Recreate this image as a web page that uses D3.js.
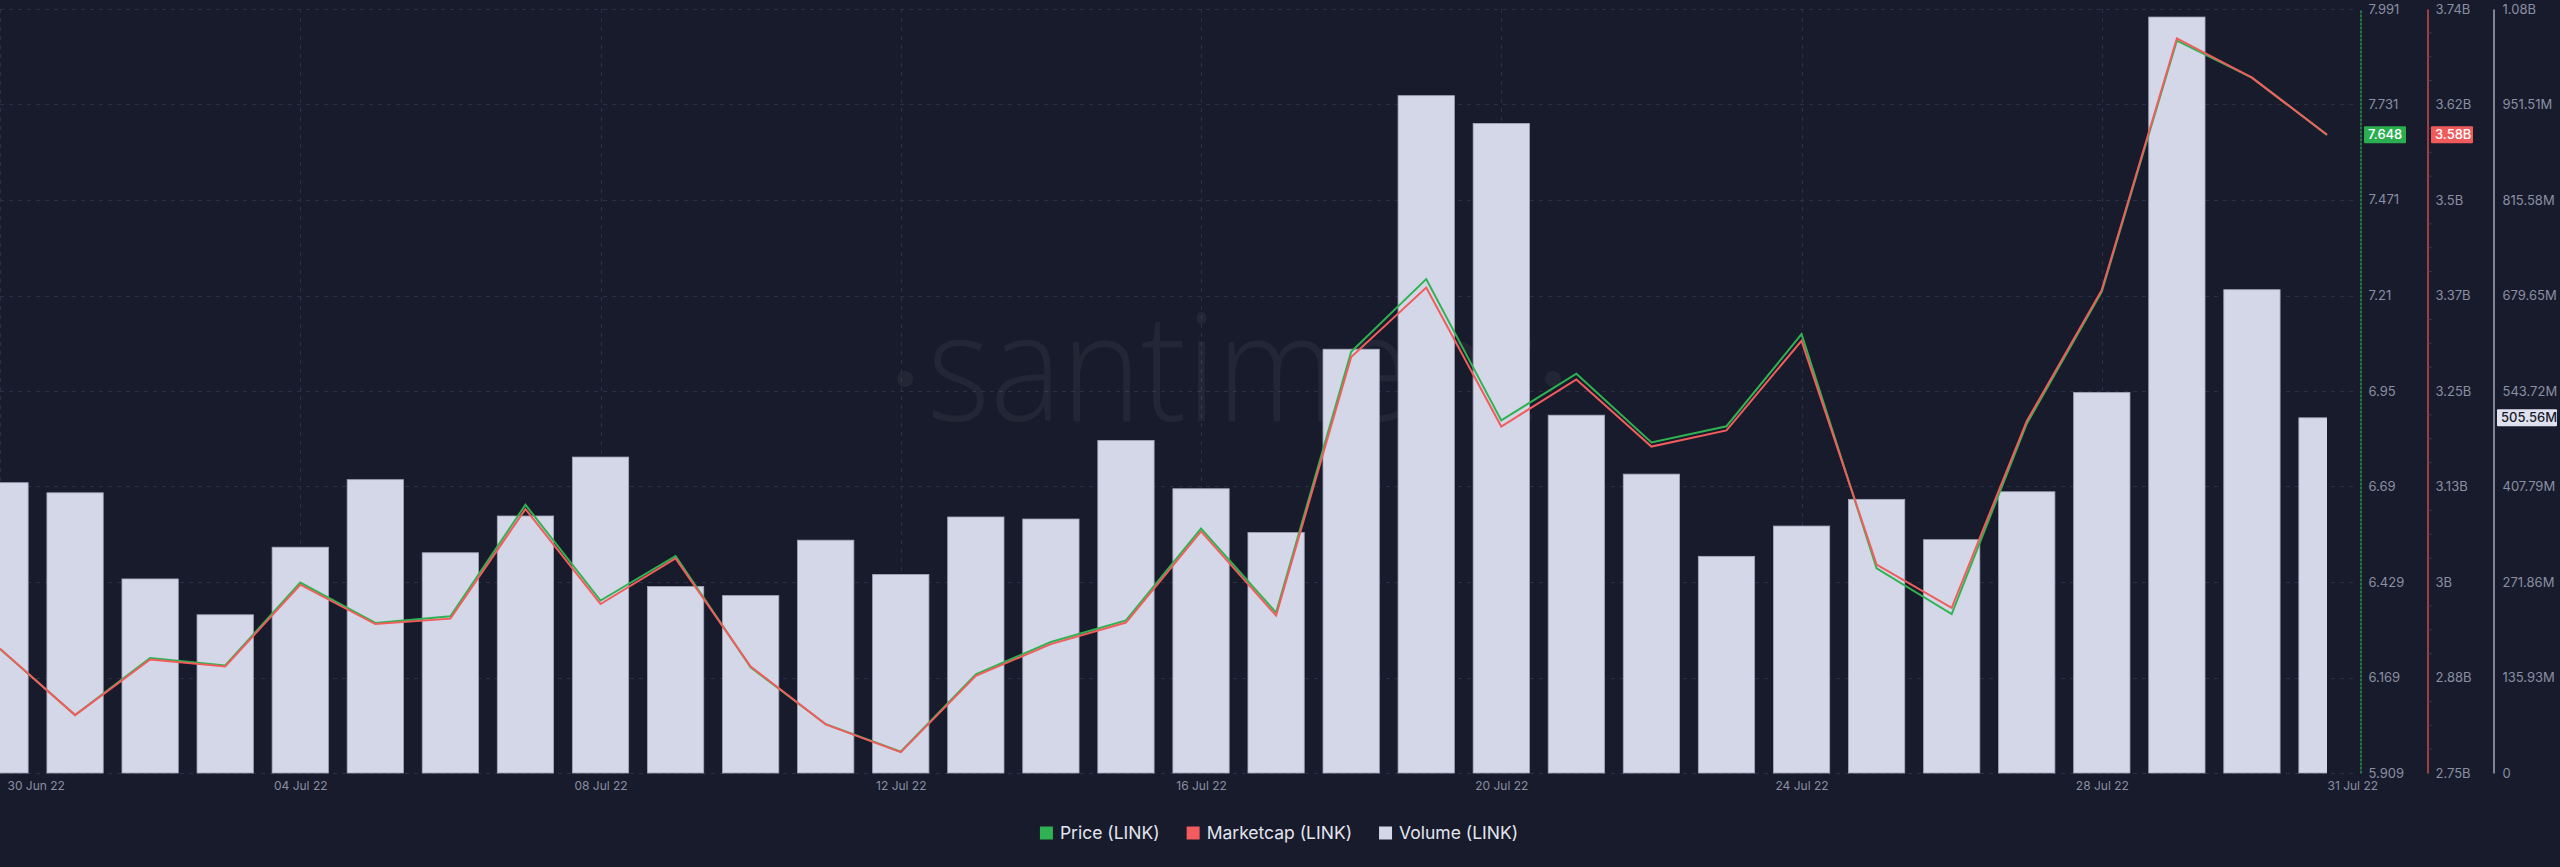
<!DOCTYPE html>
<html><head><meta charset="utf-8">
<script src="https://cdn.jsdelivr.net/npm/d3@7"></script>
<style>
html,body{margin:0;padding:0;background:#181b2b;}
svg{display:block;}
</style></head><body>
<svg id="chart" width="2560" height="867"></svg>
<script>
// ---------- data ----------
const dates = ["2022-06-30","2022-07-01","2022-07-02","2022-07-03","2022-07-04","2022-07-05","2022-07-06","2022-07-07",
  "2022-07-08","2022-07-09","2022-07-10","2022-07-11","2022-07-12","2022-07-13","2022-07-14","2022-07-15",
  "2022-07-16","2022-07-17","2022-07-18","2022-07-19","2022-07-20","2022-07-21","2022-07-22","2022-07-23",
  "2022-07-24","2022-07-25","2022-07-26","2022-07-27","2022-07-28","2022-07-29","2022-07-30","2022-07-31"];
const price = [6.247,6.067,6.222,6.202,6.428,6.318,6.336,6.640,6.379,6.500,6.197,6.042,5.967,6.178,6.266,6.325,
  6.575,6.346,7.057,7.255,6.870,6.997,6.810,6.854,7.105,6.467,6.342,6.861,7.221,7.905,7.804,7.648];
const marketcap = [2.911,2.825,2.897,2.888,2.994,2.943,2.950,3.092,2.969,3.028,2.888,2.813,2.777,2.876,2.917,2.945,
  3.063,2.954,3.289,3.379,3.199,3.260,3.173,3.194,3.310,3.020,2.964,3.206,3.376,3.702,3.651,3.577]; // billions
const volume = [413.2,398.8,276.2,225.2,321.4,417.5,313.5,365.8,449.7,265.4,252.5,331.4,282.6,364.4,361.5,473.4,
  404.6,342.2,603.2,964.1,924.6,509.3,425.4,308.4,351.5,389.5,332.1,400.3,541.6,1076.0,687.9,505.56]; // millions
const priceTicks = [5.909,6.169,6.429,6.69,6.95,7.21,7.471,7.731,7.991];
const marketcapTickLabels = ["2.75B","2.88B","3B","3.13B","3.25B","3.37B","3.5B","3.62B","3.74B"];
const volumeTickLabels = ["0","135.93M","271.86M","407.79M","543.72M","679.65M","815.58M","951.51M","1.08B"];
const dateTicks = ["2022-06-30","2022-07-04","2022-07-08","2022-07-12","2022-07-16","2022-07-20","2022-07-24","2022-07-28","2022-07-31"];
const dateTickLabels = ["30 Jun 22","04 Jul 22","08 Jul 22","12 Jul 22","16 Jul 22","20 Jul 22","24 Jul 22","28 Jul 22","31 Jul 22"];
const lastLabels = {price:"7.648", marketcap:"3.58B", volume:"505.56M"};
const legendItems = ["Price (LINK)","Marketcap (LINK)","Volume (LINK)"];

// ---------- setup ----------
const COL = {bg:"#181b2b", grid:"#2c3045", text:"#8a8fa3", green:"#2fb352", red:"#f25c5c", bar:"#d3d7e8", barStroke:"#a4a8ba", vol:"#c9ccda"};
const parse = d3.timeParse("%Y-%m-%d");
const svg = d3.select("#chart");
const topY = 9, bottomY = 773, plotRight = 2358;
const x = d3.scaleTime().domain([parse(dates[0]), parse(dates[dates.length-1])]).range([0, 2327]);
const yP = d3.scaleLinear().domain([5.909, 7.991]).range([bottomY, topY]);
const yM = d3.scaleLinear().domain([2.75, 3.74]).range([bottomY, topY]);
const yV = d3.scaleLinear().domain([0, 1087.44]).range([bottomY, topY]);
const step = x(parse(dates[1])) - x(parse(dates[0]));
const bw = step * 0.75;

svg.append("rect").attr("width",2560).attr("height",867).attr("fill",COL.bg);
svg.append("defs").append("clipPath").attr("id","plotclip").append("rect")
  .attr("x",0).attr("y",0).attr("width",x(parse(dates[dates.length-1]))).attr("height",bottomY+1);

// grid
const grid = svg.append("g").attr("stroke",COL.grid).attr("stroke-dasharray","4 5").attr("stroke-width",1);
grid.selectAll("line.h").data(priceTicks).join("line").attr("class","h")
  .attr("x1",0).attr("x2",plotRight).attr("y1",d=>Math.round(yP(d))+0.5).attr("y2",d=>Math.round(yP(d))+0.5);
grid.selectAll("line.v").data(dateTicks.slice(0,-1)).join("line").attr("class","v")
  .attr("x1",d=>Math.round(x(parse(d)))+0.5).attr("x2",d=>Math.round(x(parse(d)))+0.5).attr("y1",topY).attr("y2",bottomY);

// watermark
const wm = svg.append("g").attr("fill","rgba(255,255,255,0.05)");
wm.append("text").attr("x",927).attr("y",421).attr("font-family","Open Sans").attr("font-weight",300)
  .attr("font-size",150).attr("textLength",608).attr("lengthAdjust","spacingAndGlyphs").text("santiment");
wm.append("circle").attr("cx",905).attr("cy",379).attr("r",8);
wm.append("circle").attr("cx",1553).attr("cy",379).attr("r",8);

// bars
svg.append("g").attr("clip-path","url(#plotclip)").selectAll("rect").data(volume).join("rect")
  .attr("x",(d,i)=>x(parse(dates[i]))-bw/2).attr("width",bw)
  .attr("y",d=>yV(d)).attr("height",d=>bottomY-yV(d))
  .attr("fill",COL.bar).attr("stroke",COL.barStroke).attr("stroke-width",0.8);

// lines
const lineP = d3.line().x((d,i)=>x(parse(dates[i]))).y(d=>yP(d));
const lineM = d3.line().x((d,i)=>x(parse(dates[i]))).y(d=>yM(d));
svg.append("path").datum(price).attr("d",lineP).attr("fill","none").attr("stroke",COL.green).attr("stroke-width",2).attr("stroke-linejoin","miter");
svg.append("path").datum(marketcap).attr("d",lineM).attr("fill","none").attr("stroke",COL.red).attr("stroke-width",2).attr("stroke-linejoin","miter");

// axes
function styleAxis(g, col){
  g.select(".domain").attr("stroke",col).attr("stroke-width",1.2);
  g.selectAll(".tick line").remove();
  g.selectAll("text").attr("fill",COL.text).attr("font-family","Inter").attr("font-size",13);
}
const axP = svg.append("g").attr("transform","translate(2360.5,0)")
  .call(d3.axisRight(yP).tickValues(priceTicks).tickSize(0).tickSizeOuter(0).tickPadding(8).tickFormat(d=>String(d)));
styleAxis(axP, COL.green);
axP.select(".domain").attr("stroke-dasharray","3 1");
const mcTickVals = marketcapTickLabels.map((l,i)=>yM.domain()[0] + i*(yM.domain()[1]-yM.domain()[0])/(marketcapTickLabels.length-1));
const axM = svg.append("g").attr("transform","translate(2427.5,0)")
  .call(d3.axisRight(yM).tickValues(mcTickVals).tickSize(0).tickSizeOuter(0).tickPadding(8).tickFormat((d,i)=>marketcapTickLabels[i]));
styleAxis(axM, COL.red);
const minor = d3.range(0, 33).map(i=>yM.domain()[0] + i*(yM.domain()[1]-yM.domain()[0])/32).filter((d,i)=>i%4!==0);
axM.selectAll("line.minor").data(minor).join("line").attr("class","minor")
  .attr("x1",1).attr("x2",4).attr("y1",d=>yM(d)).attr("y2",d=>yM(d)).attr("stroke","#3b3f55");
const volTickVals = volumeTickLabels.map((l,i)=>yV.domain()[0] + i*(yV.domain()[1]-yV.domain()[0])/(volumeTickLabels.length-1));
const axV = svg.append("g").attr("transform","translate(2493.5,0)")
  .call(d3.axisRight(yV).tickValues(volTickVals).tickSize(0).tickSizeOuter(0).tickPadding(9).tickFormat((d,i)=>volumeTickLabels[i]));
styleAxis(axV, COL.vol);

// last value labels
function tagLabel(xx, yy, w, txt, bg, fg){
  const g = svg.append("g");
  g.append("rect").attr("x",xx).attr("y",yy-8.5).attr("width",w).attr("height",17).attr("fill",bg).attr("rx",1);
  g.append("text").attr("x",xx+4).attr("y",yy).attr("dy","0.35em").attr("fill",fg)
    .attr("font-family","Inter").attr("font-size",13).attr("font-weight",500).text(txt);
}
tagLabel(2364, yP(price[price.length-1]), 42, lastLabels.price, "#2aae50", "#ffffff");
tagLabel(2431, yM(marketcap[marketcap.length-1]), 42, lastLabels.marketcap, "#ef5b5b", "#ffffff");
tagLabel(2497, yV(volume[volume.length-1]), 60, lastLabels.volume, "#dfe2ee", "#181b2b");

// date axis
const axX = svg.append("g").attr("transform",`translate(0,${bottomY})`)
  .call(d3.axisBottom(x).tickValues(dateTicks.map(parse)).tickSize(0).tickSizeOuter(0).tickPadding(8)
    .tickFormat((d,i)=>dateTickLabels[i]));
axX.select(".domain").remove();
axX.selectAll("text").attr("fill",COL.text).attr("font-family","Inter").attr("font-size",12);
axX.selectAll(".tick").filter((d,i)=>i===0).select("text").attr("text-anchor","start").attr("x",7);
axX.selectAll(".tick").filter((d,i)=>i===dateTicks.length-1).select("text").attr("text-anchor","start").attr("x",0);

// legend
const legCols = [COL.green, COL.red, COL.bar];
const leg = svg.append("g");
let cx = 0;
legendItems.forEach((t,i)=>{
  const g = leg.append("g");
  g.append("rect").attr("x",0).attr("y",-6.5).attr("width",13).attr("height",13).attr("fill",legCols[i]);
  const tx = g.append("text").attr("x",20).attr("y",0).attr("dy","0.35em").attr("fill","#e3e6f0")
    .attr("font-family","Inter").attr("font-size",17.5).text(t);
  const w = 20 + tx.node().getComputedTextLength();
  g.attr("transform",`translate(${cx},0)`);
  cx += w + 27;
});
const totalW = cx - 27;
leg.attr("transform",`translate(${1279 - totalW/2},833)`);
</script>
</body></html>
